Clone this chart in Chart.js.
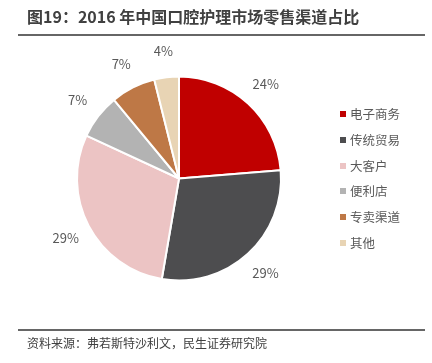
<!DOCTYPE html>
<html>
<head>
<meta charset="utf-8">
<script src="https://cdn.jsdelivr.net/npm/chart.js@4.4.1/dist/chart.umd.min.js"></script>
<style>
  html, body { margin: 0; padding: 0; background: #fff; }
  body { width: 432px; height: 363px; position: relative; overflow: hidden;
         font-family: "Noto Sans CJK SC", "Noto Sans", sans-serif; }
  #title { position: absolute; left: 27px; top: 4px; font-size: 16px; font-weight: bold;
           color: #404040; white-space: nowrap; line-height: 24px; }
  #titleLine { position: absolute; left: 18px; width: 407px; top: 34px; height: 2px; background: #666; }
  #footLine { position: absolute; left: 18px; width: 407px; top: 329px; height: 2px; background: #666; }
  #source { position: absolute; left: 27px; top: 334px; font-size: 12px; color: #404040;
            white-space: nowrap; line-height: 18px; }
  #chartWrap { position: absolute; left: 0; top: 0; width: 432px; height: 363px; }
  #legend { position: absolute; left: 340px; top: 0; }
  .item { position: absolute; left: 0; white-space: nowrap; font-size: 12.5px; color: #595959; line-height: 16px; }
  .sw { position: absolute; left: 0; top: 5px; width: 6px; height: 6px; }
  .lt { position: absolute; left: 10px; top: 0; }
</style>
</head>
<body>
<div id="chartWrap"><canvas id="c" width="432" height="363"></canvas></div>
<div id="title">图19：2016 年中国口腔护理市场零售渠道占比</div>
<div id="titleLine"></div>
<div id="legend"></div>
<div id="footLine"></div>
<div id="source">资料来源：弗若斯特沙利文，民生证券研究院</div>
<script>
// ---- data ----
const categories = ["电子商务", "传统贸易", "大客户", "便利店", "专卖渠道", "其他"];
const shares = [23.7, 29.0, 29.2, 7.1, 7.1, 3.9];
const colors = ["#C00000", "#4D4D4F", "#ECC4C4", "#B3B3B3", "#BE7846", "#E8D4B4"];

// ---- legend (HTML, from the arrays) ----
const legend = document.getElementById('legend');
categories.forEach((name, i) => {
  const d = document.createElement('div');
  d.className = 'item';
  d.style.top = (106 + i * 25.8) + 'px';
  d.innerHTML = '<span class="sw" style="background:' + colors[i] + '"></span><span class="lt">' + name + '</span>';
  legend.appendChild(d);
});

// ---- outside labels plugin ----
const outsideLabels = {
  id: 'outsideLabels',
  afterDatasetsDraw(chart) {
    const ctx = chart.ctx;
    const meta = chart.getDatasetMeta(0);
    const data = chart.data.datasets[0].data;
    const total = data.reduce((a, b) => a + b, 0);
    ctx.save();
    ctx.font = '13px "Noto Sans CJK SC", "Noto Sans", sans-serif';
    ctx.fillStyle = '#595959';
    ctx.textAlign = 'center';
    ctx.textBaseline = 'middle';
    meta.data.forEach((arc, i) => {
      const p = arc.getProps(['x', 'y', 'startAngle', 'endAngle', 'outerRadius'], true);
      const mid = (p.startAngle + p.endAngle) / 2;
      const r = p.outerRadius + 26;
      const x = p.x + Math.cos(mid) * r;
      const y = p.y + Math.sin(mid) * r;
      ctx.fillText(Math.round(data[i] / total * 100) + '%', x, y);
    });
    ctx.restore();
  }
};

new Chart(document.getElementById('c'), {
  type: 'pie',
  data: {
    labels: categories,
    datasets: [{
      data: shares,
      backgroundColor: colors,
      borderColor: '#ffffff',
      borderWidth: 2
    }]
  },
  options: {
    responsive: false,
    animation: false,
    layout: { padding: { left: 76, right: 150, top: 75, bottom: 81 } },
    plugins: { legend: { display: false }, tooltip: { enabled: false }, title: { display: false } }
  },
  plugins: [outsideLabels]
});
</script>
</body>
</html>
